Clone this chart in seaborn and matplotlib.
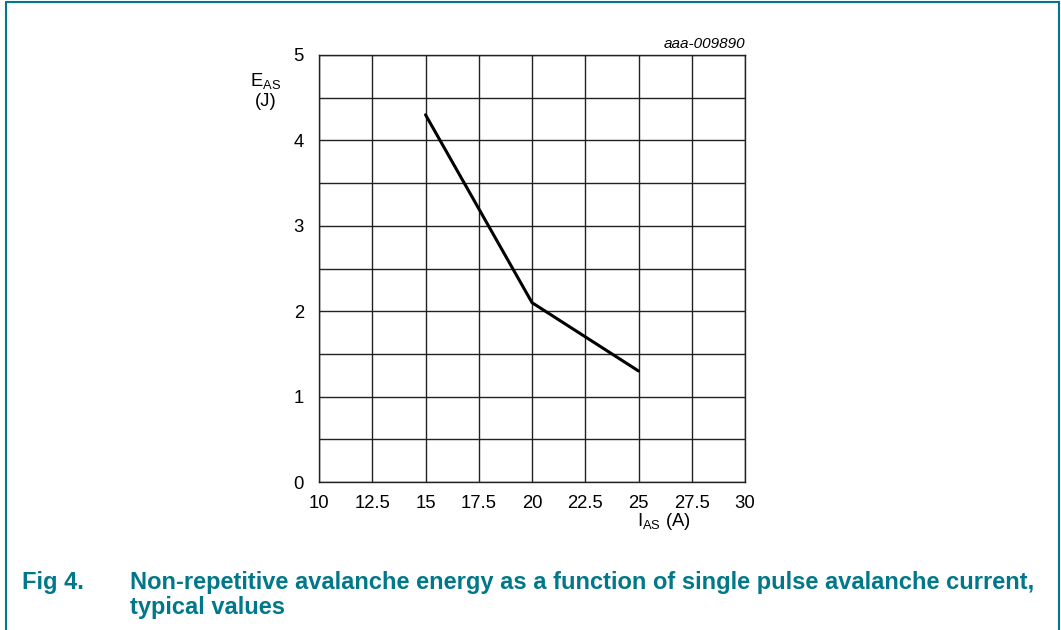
import numpy as np
import pandas as pd
import seaborn as sns
import matplotlib.pyplot as plt
from matplotlib.lines import Line2D

sns.set_style("white")
plt.rcParams["font.family"] = ["Liberation Sans", "DejaVu Sans"]
plt.rcParams["mathtext.fontset"] = "custom"
plt.rcParams["mathtext.rm"] = "Liberation Sans"
plt.rcParams["text.color"] = "black"
plt.rcParams["xtick.color"] = "black"
plt.rcParams["ytick.color"] = "black"

# values
current = [15, 20, 25]
energy = [4.3, 2.1, 1.3]
x_ticks = [10, 12.5, 15, 17.5, 20, 22.5, 25, 27.5, 30]
x_tick_labels = ["10", "12.5", "15", "17.5", "20", "22.5", "25", "27.5", "30"]
y_ticks = [0, 1, 2, 3, 4, 5]

teal = "#00788A"

data = pd.DataFrame({"I_AS": current, "E_AS": energy})

fig = plt.figure(figsize=(10.61, 6.30), dpi=100)
ax = fig.add_axes([0.3007, 0.2349, 0.4015, 0.6778])

sns.lineplot(x="I_AS", y="E_AS", data=data, ax=ax, color="black",
             linewidth=2.2, legend=False)

ax.set_xlim(10, 30)
ax.set_ylim(0, 5)
ax.set_xticks(x_ticks)
ax.set_xticklabels(x_tick_labels)
ax.set_yticks(y_ticks)
ax.set_yticks(np.arange(0.5, 5, 1.0), minor=True)
ax.grid(True, which="both", color="#222222", linewidth=1.0)
ax.tick_params(axis="x", length=0, pad=9, labelsize=13.3)
ax.tick_params(axis="y", which="major", length=5, width=1,
               color="#222222", pad=6, labelsize=13.3, direction="out")
ax.tick_params(axis="y", which="minor", length=0)
for s in ax.spines.values():
    s.set_color("#222222")
    s.set_linewidth(1.0)
ax.set_xlabel("")
ax.set_ylabel("")

fig.text(0.250, 0.871, r"$\mathregular{E_{AS}}$", fontsize=13.3,
         ha="center", va="center")
fig.text(0.250, 0.839, "(J)", fontsize=13.3, ha="center", va="center")
fig.text(0.626, 0.172, r"$\mathregular{I_{AS}}$ (A)", fontsize=13.3,
         ha="center", va="center")
fig.text(0.7022, 0.930, "aaa-009890", fontsize=11, style="italic",
         ha="right", va="center")

fig.text(0.021, 0.076, "Fig 4.", fontsize=17, fontweight="bold",
         color=teal, va="center")
fig.text(0.1225, 0.076, "Non-repetitive avalanche energy as a function of "
         "single pulse avalanche current,", fontsize=17, fontweight="bold",
         color=teal, va="center")
fig.text(0.1225, 0.035, "typical values", fontsize=17, fontweight="bold",
         color=teal, va="center")

# frame around the figure
fig.add_artist(Line2D([0.0052, 0.0052], [0, 0.9968], color=teal, lw=1.5,
                      transform=fig.transFigure))
fig.add_artist(Line2D([0.0052, 0.9985], [0.9968, 0.9968], color=teal,
                      lw=1.5, transform=fig.transFigure))
fig.add_artist(Line2D([0.9985, 0.9985], [0, 0.9968], color=teal, lw=1.5,
                      transform=fig.transFigure))

fig.savefig("out.png", dpi=100)
